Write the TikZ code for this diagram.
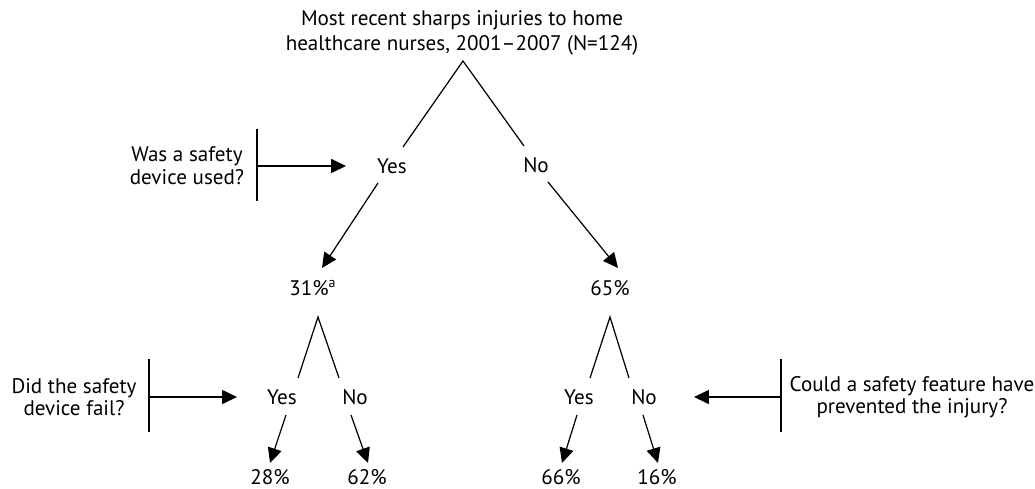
\documentclass[tikz,border=0pt]{standalone}
\usepackage{fontspec}
\setmainfont{PT Sans}
\usetikzlibrary{arrows.meta}
\begin{document}
\begin{tikzpicture}[x=0.02cm,y=-0.02cm,
		line/.style={line width=0.7pt,black},
		arr/.style={line width=0.7pt,black,-{Triangle[length=8.5pt,width=8pt]}},
		lbl/.style={inner sep=0pt,font=\fontsize{12}{14}\selectfont},
		quest/.style={inner sep=0pt,align=center,font=\fontsize{12}{12.5}\selectfont}]
			% Frame
			\useasboundingbox (0,0) rectangle (1035,489);
			
			% Title
			\node[quest,font=\fontsize{12}{14.2}\selectfont] (title) at (462,33) {Most recent sharps injuries to home\\healthcare nurses, 2001--2007 (N=124)};
			
			% Top branch
			\coordinate (apexA) at (463,61);
			\coordinate (legAy) at (403,147);
			\coordinate (legAn) at (524,146);
			\node[lbl] (yesA) at (392,166) {Yes};
			\node[lbl] (noA) at (536,165) {No};
			\draw[line] (legAy) -- (apexA) -- (legAn);
			
			% Second level
			\node[lbl] (pctY) at (313,288) {31\%\textsuperscript{a}};
			\node[lbl] (pctN) at (610,288) {65\%};
			\coordinate (fromAy) at (378,183);
			\coordinate (toAy) at (322,268);
			\coordinate (fromAn) at (548,182);
			\coordinate (toAn) at (618,268);
			\draw[arr] (fromAy) -- (toAy);
			\draw[arr] (fromAn) -- (toAn);
			
			% Lower left branch
			\coordinate (apexB) at (318,317);
			\coordinate (legBy) at (298,378);
			\coordinate (legBn) at (339,378);
			\node[lbl] (yesB) at (282,397) {Yes};
			\node[lbl] (noB) at (355,397) {No};
			\draw[line] (legBy) -- (apexB) -- (legBn);
			\node[lbl] (pctBy) at (270,477) {28\%};
			\node[lbl] (pctBn) at (367,477) {62\%};
			\coordinate (fromBy) at (286,415);
			\coordinate (toBy) at (270,463);
			\coordinate (fromBn) at (351,415);
			\coordinate (toBn) at (368,463);
			\draw[arr] (fromBy) -- (toBy);
			\draw[arr] (fromBn) -- (toBn);
			
			% Lower right branch
			\coordinate (apexC) at (610,317);
			\coordinate (legCy) at (590,378);
			\coordinate (legCn) at (629,378);
			\node[lbl] (yesC) at (579,397) {Yes};
			\node[lbl] (noC) at (644,397) {No};
			\draw[line] (legCy) -- (apexC) -- (legCn);
			\node[lbl] (pctCy) at (561,477) {66\%};
			\node[lbl] (pctCn) at (657,477) {16\%};
			\coordinate (fromCy) at (577,415);
			\coordinate (toCy) at (562,463);
			\coordinate (fromCn) at (643,415);
			\coordinate (toCn) at (658,463);
			\draw[arr] (fromCy) -- (toCy);
			\draw[arr] (fromCn) -- (toCn);
			
			% Questions
			\node[quest,font=\fontsize{12}{13}\selectfont] (qUsed) at (187,166) {Was a safety\\device used?};
			\coordinate (barAt) at (257,129);
			\coordinate (barAb) at (257,201);
			\coordinate (barAm) at (257,166);
			\coordinate (tipA) at (346,166);
			\draw[line] (barAt) -- (barAb);
			\draw[arr] (barAm) -- (tipA);
			
			\node[quest] (qFail) at (74,397) {Did the safety\\device fail?};
			\coordinate (barBt) at (149,359);
			\coordinate (barBb) at (149,432);
			\coordinate (barBm) at (149,397);
			\coordinate (tipB) at (237,397);
			\draw[line] (barBt) -- (barBb);
			\draw[arr] (barBm) -- (tipB);
			
			\node[quest] (qPrev) at (912,397) {Could a safety feature have\\prevented the injury?};
			\coordinate (barCt) at (781,359);
			\coordinate (barCb) at (781,432);
			\coordinate (barCm) at (781,397);
			\coordinate (tipC) at (694,397);
			\draw[line] (barCt) -- (barCb);
			\draw[arr] (barCm) -- (tipC);
		\end{tikzpicture}
\end{document}
